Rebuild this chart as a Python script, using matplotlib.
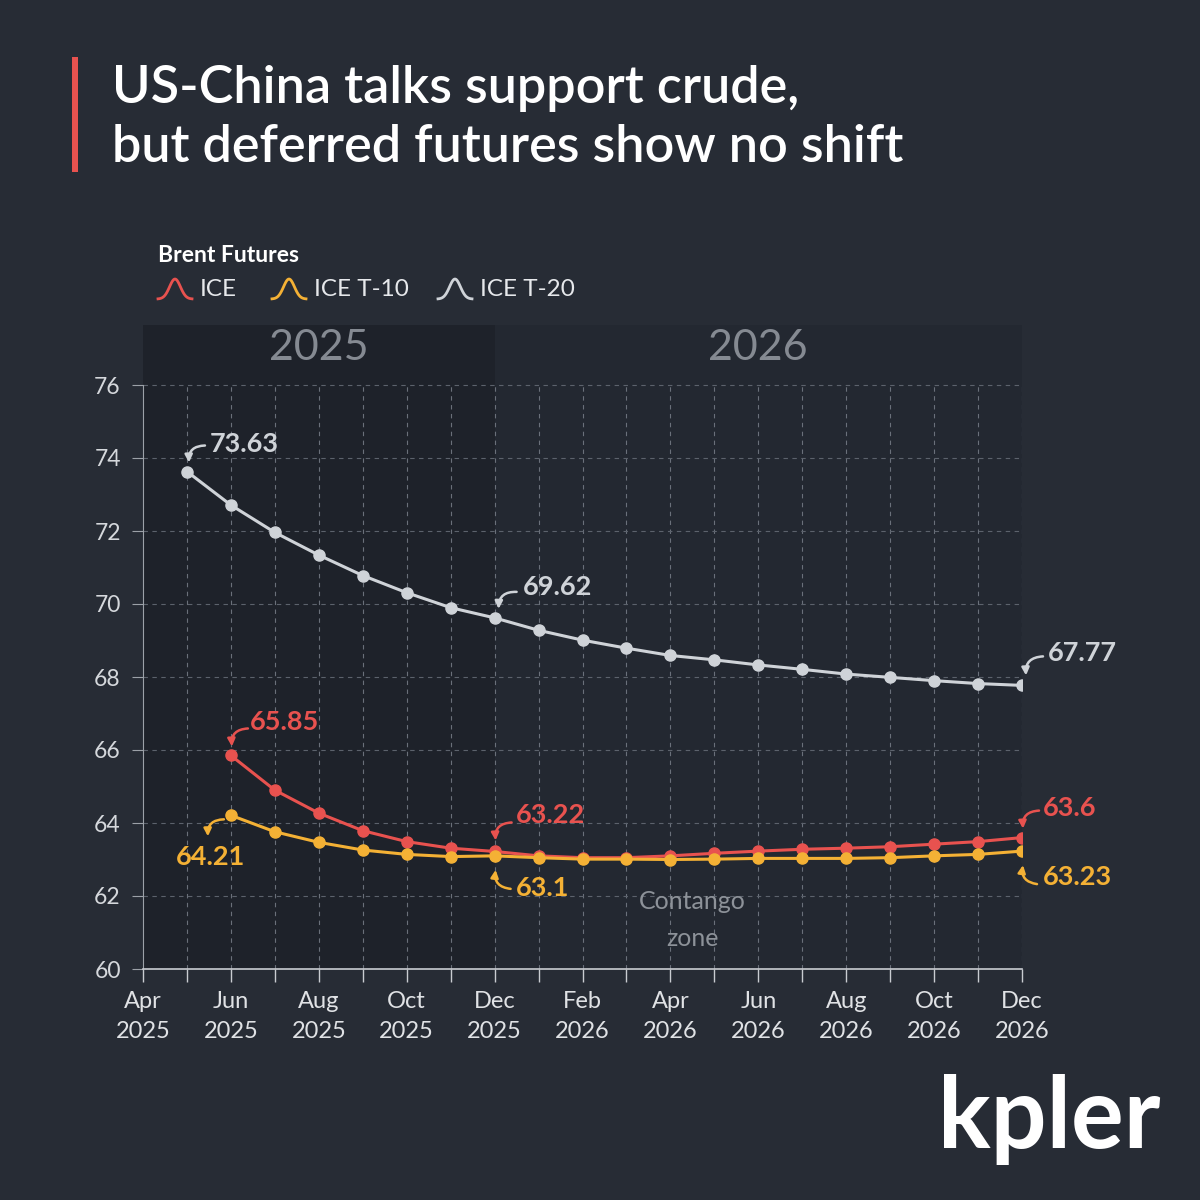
import numpy as np
import matplotlib.pyplot as plt
from matplotlib.lines import Line2D
from matplotlib.patches import Rectangle
import matplotlib.transforms as mtransforms

plt.rcParams['font.family'] = ['Lato', 'DejaVu Sans']

# --------------------------
# Data (months counted from Apr 2025 = 0)
# --------------------------
months_t20 = list(range(1, 21))          # May 2025 .. Dec 2026
months_ice = list(range(2, 21))          # Jun 2025 .. Dec 2026

ice_t20 = [73.63, 72.71, 71.96, 71.34, 70.78, 70.31, 69.90, 69.62,
           69.28, 69.01, 68.79, 68.59, 68.47, 68.33, 68.21, 68.08,
           67.99, 67.90, 67.82, 67.77]
ice = [65.85, 64.90, 64.27, 63.79, 63.49, 63.31, 63.22,
       63.10, 63.05, 63.05, 63.10, 63.17, 63.23, 63.28, 63.31,
       63.35, 63.42, 63.49, 63.60]
ice_t10 = [64.21, 63.76, 63.47, 63.26, 63.14, 63.08, 63.10,
           63.05, 63.01, 63.01, 63.00, 63.01, 63.03, 63.03, 63.03,
           63.05, 63.10, 63.14, 63.23]

tick_pos = list(range(0, 21, 2))
tick_labels = ['Apr\n2025', 'Jun\n2025', 'Aug\n2025', 'Oct\n2025', 'Dec\n2025',
               'Feb\n2026', 'Apr\n2026', 'Jun\n2026', 'Aug\n2026', 'Oct\n2026',
               'Dec\n2026']

# colours
BG = '#272c35'
DARK25 = '#1e222a'
DARK26 = '#232831'
RED = '#e8524f'
ORANGE = '#f4b135'
GREY = '#cfd3d8'
TXT = '#e6e8eb'

fig = plt.figure(figsize=(12, 12), dpi=100, facecolor=BG)
ax = fig.add_axes([143 / 1200, 1 - 969 / 1200, 879 / 1200, 644 / 1200])
ax.set_facecolor(BG)
ax.set_xlim(0, 20)
ax.set_ylim(60, 60 + 644 / 36.5)

# year zones
ax.axvspan(0, 8, color=DARK25, zorder=0, lw=0)
ax.axvspan(8, 20, color=DARK26, zorder=0, lw=0)
ax.text(4, 77.0, '2025', ha='center', va='center', fontsize=31, color='#858a92')
ax.text(14, 77.0, '2026', ha='center', va='center', fontsize=31, color='#858a92')

# grid
for m in range(1, 21):
    ax.plot([m, m], [60, 76], color='#6a707a', lw=0.8, dashes=(4, 4), zorder=1)
for v in range(62, 77, 2):
    ax.plot([0, 20], [v, v], color='#5c626c', lw=0.8, dashes=(4, 4), zorder=1)

# lines
ax.plot(months_t20, ice_t20, color=GREY, lw=2.2, marker='o', ms=8, zorder=3)
ax.plot(months_ice, ice_t10, color=ORANGE, lw=2.2, marker='o', ms=8, zorder=4)
ax.plot(months_ice, ice, color=RED, lw=2.2, marker='o', ms=8, zorder=3)

# axes styling
for s in ['top', 'right']:
    ax.spines[s].set_visible(False)
ax.spines['left'].set_bounds(60, 76)
ax.spines['left'].set_color('#9ca1a8')
ax.spines['bottom'].set_color('#c9ccd1')
ax.spines['bottom'].set_linewidth(1.2)
ax.set_yticks(range(60, 77, 2))
ax.set_xticks(tick_pos)
ax.set_xticklabels(tick_labels)
ax.set_xticks(range(0, 21), minor=True)
ax.tick_params(axis='y', colors='#9ca1a8', labelcolor='#d5d8dc', labelsize=16.5,
               length=8, pad=8)
ax.tick_params(axis='x', which='both', colors='#c9ccd1', length=9, width=1)
ax.tick_params(axis='x', which='major', labelcolor='#e0e2e5', labelsize=17, pad=7)
for lab in ax.get_xticklabels():
    lab.set_linespacing(1.5)

ax.text(12.5, 61.35, 'Contango\nzone', ha='center', va='center', fontsize=18,
        color='#8d9299', linespacing=1.75, zorder=5)


# value labels with curved arrows (offsets in pixels)
def label(x, y, text, color, tdx, tdy, tail, head, rad):
    ax.annotate(text, xy=(x, y), xytext=(tdx, tdy), textcoords='offset pixels',
                ha='left', va='center', fontsize=19.5, fontweight='bold',
                color=color, zorder=6)
    head_tr = mtransforms.offset_copy(ax.transData, fig=fig, x=head[0],
                                      y=head[1], units='dots')
    tail_tr = mtransforms.offset_copy(ax.transData, fig=fig, x=tail[0],
                                      y=tail[1], units='dots')
    ax.annotate('', xy=(x, y), xycoords=head_tr, xytext=(x, y),
                textcoords=tail_tr,
                arrowprops=dict(arrowstyle='-|>', color=color, lw=1.8,
                                mutation_scale=11, shrinkA=0, shrinkB=0,
                                connectionstyle='arc3,rad=%s' % rad),
                zorder=6)


label(months_t20[0], ice_t20[0], '73.63', GREY, 23, 28, (18, 26), (2, 9), 0.5)
label(months_t20[7], ice_t20[7], '69.62', GREY, 28, 31, (22, 26), (4, 9), 0.5)
label(months_t20[-1], ice_t20[-1], '67.77', GREY, 26, 32, (21, 29), (4, 10), 0.5)
label(months_ice[0], ice[0], '65.85', RED, 19, 33, (17, 27), (1, 9), 0.5)
label(months_ice[6], ice[6], '63.22', RED, 21, 36, (17, 29), (1, 11), 0.5)
label(months_ice[-1], ice[-1], '63.6', RED, 21, 30, (17, 27), (1, 9), 0.5)
label(months_ice[0], ice_t10[0], '64.21', ORANGE, -55, -42, (-7, -4), (-23, -21), 0.5)
label(months_ice[6], ice_t10[6], '63.1', ORANGE, 21, -32, (16, -33), (1, -14), -0.5)
label(months_ice[-1], ice_t10[-1], '63.23', ORANGE, 21, -26, (15, -33), (1, -14), -0.5)

# title with red bar
fig.add_artist(Rectangle((72 / 1200, 1 - 172 / 1200), 6 / 1200, 115 / 1200,
                         transform=fig.transFigure, color=RED, lw=0))
fig.text(112 / 1200, 1 - 88 / 1200, 'US-China talks support crude,', fontsize=37.5,
         color='white', fontweight='semibold', va='center', ha='left')
fig.text(112 / 1200, 1 - 148 / 1200, 'but deferred futures show no shift', fontsize=37.5,
         color='white', fontweight='semibold', va='center', ha='left')

# legend
fig.text(158 / 1200, 1 - 255 / 1200, 'Brent Futures', fontsize=16.5, color='white',
         fontweight='bold', va='center', ha='left')
bell_x = np.linspace(-1, 1, 40)
bell_y = np.exp(-(bell_x * 2.2) ** 2)
for x0, col, name in [(158, RED, 'ICE'), (272, ORANGE, 'ICE T-10'),
                      (438, GREY, 'ICE T-20')]:
    xs = (x0 + (bell_x + 1) * 17) / 1200
    ys = 1 - (299 - bell_y * 20) / 1200
    fig.add_artist(Line2D(xs, ys, transform=fig.transFigure, color=col, lw=2))
    fig.text((x0 + 42) / 1200, 1 - 290 / 1200, name, fontsize=17.5, color=TXT,
             va='center', ha='left')

# logo
fig.text(1160 / 1200, 1 - 1148 / 1200, 'kpler', fontsize=71, color='white',
         fontweight='bold', ha='right', va='baseline')

fig.savefig('out.png', dpi=100, facecolor=BG)
